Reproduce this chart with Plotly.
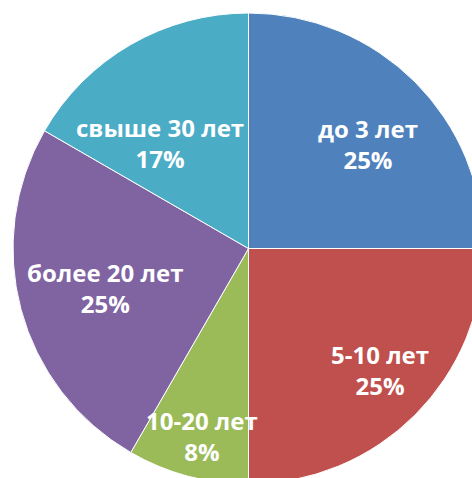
import plotly.graph_objects as go

# ---- data ----
categories = ["до 3 лет", "5-10 лет", "10-20 лет", "более 20 лет", "свыше 30 лет"]
shares = [25.0, 25.0, 8.33, 25.0, 16.67]
pct_labels = ["25%", "25%", "8%", "25%", "17%"]

# ---- style ----
colors = ["#4F81BD", "#C0504D", "#9BBB59", "#8064A2", "#4BACC6"]
MARGIN = 13          # page body margin is removed below, so plot area starts at 13px
PLOT = 471           # square plot area -> pie radius ~235
FIG_W = FIG_H = PLOT + 2 * MARGIN
# label anchor positions in page pixels (Excel "best fit" placement)
label_px = [(368, 144), (380, 370), (202, 436), (105, 288), (160, 143)]

fig = go.Figure(go.Pie(
    labels=categories,
    values=shares,
    sort=False,
    direction="clockwise",
    rotation=0,
    marker=dict(colors=colors, line=dict(color="white", width=1)),
    textinfo="none",
    hoverinfo="label+percent",
    showlegend=False,
    domain=dict(x=[0, 1], y=[0, 1]),
))

for cat, pct, (px, py) in zip(categories, pct_labels, label_px):
    fig.add_annotation(
        x=(px - MARGIN) / PLOT,
        y=1 - (py - MARGIN) / PLOT,
        xref="paper", yref="paper",
        text=f"{cat}<br>{pct}",
        showarrow=False,
        xanchor="center", yanchor="middle",
        font=dict(family="Open Sans", size=24, color="white", weight="bold"),
        align="center",
    )

fig.update_layout(
    width=FIG_W, height=FIG_H,
    margin=dict(l=MARGIN, r=MARGIN, t=MARGIN, b=MARGIN),
    paper_bgcolor="white",
    plot_bgcolor="white",
)

fig.write_html(
    "out.html",
    config={"displayModeBar": False},
    post_script=(
        "document.body.style.margin='0';"
        "document.body.style.padding='0';"
        "document.documentElement.style.overflow='hidden';"
        "document.body.style.overflow='hidden';"
    ),
)
